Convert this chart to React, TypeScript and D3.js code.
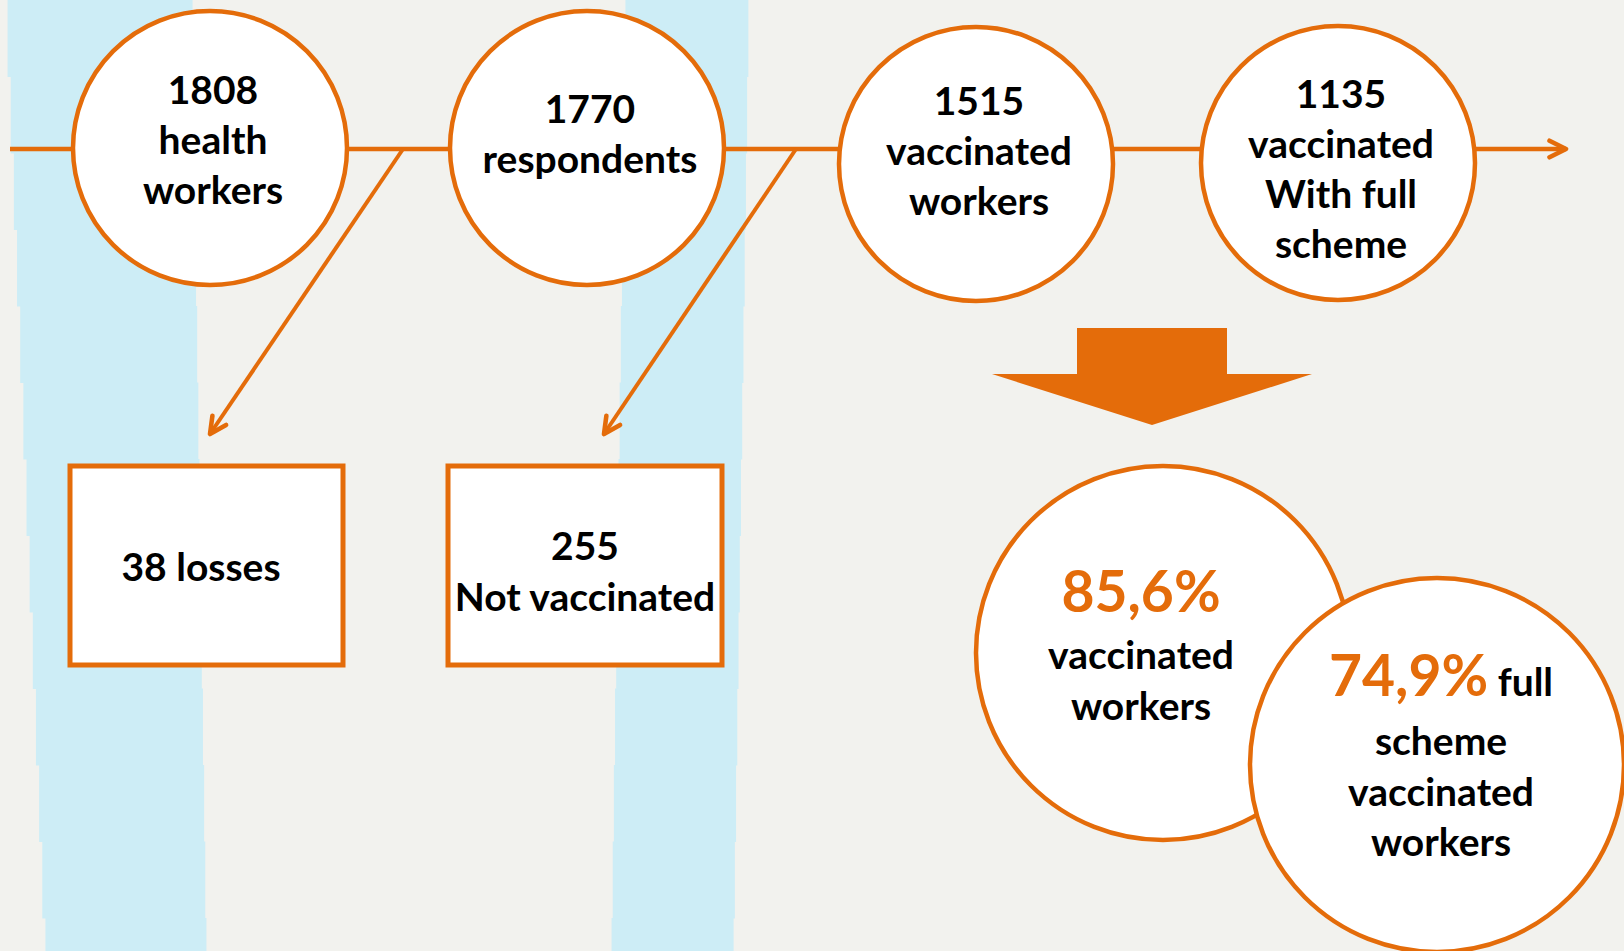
import React from 'react';
import * as d3 from 'd3';

// flow of the survey population
const stageNames = ['health', 'respondents', 'vaccinated', 'full'];
const stageCounts = [1808, 1770, 1515, 1135];
const stageLabels = [
  ['health', 'workers'],
  ['respondents'],
  ['vaccinated', 'workers'],
  ['vaccinated', 'With full', 'scheme'],
];
const dropCounts = [38, 255];
const dropLabels = ['losses', 'Not vaccinated'];
const rateLabels = [
  ['vaccinated', 'workers'],
  ['scheme', 'vaccinated', 'workers'],
];

const W = 1624;
const H = 951;
const ORANGE = '#E46C0A';
const BLUE = '#CDEDF6';
const BG = '#F2F2EE';
const FONT = 'Lato, "Open Sans", sans-serif';
const FS = 39;

// layout
const x = d3.scaleOrdinal<string, number>().domain(stageNames).range([210, 587, 976, 1338]);
const y = d3.scaleOrdinal<string, number>().domain(stageNames).range([148, 148, 164, 163]);
const firstBaseline = d3.scaleOrdinal<string, number>().domain(stageNames).range([104, 123, 115, 108]);
const R = 137;
const LINE_Y = 149;
const LINE_H = 50;

const pct = (a: number, b: number) => d3.format('.1f')((a / b) * 100).replace('.', ',') + '%';

// stepped stripes in the background
const stripe = (x0t: number, x1t: number, x0b: number, x1b: number) => {
  const step = 76.5;
  const n = Math.ceil(H / step);
  return d3.range(n).map(i => {
    const t = (i + 0.5) / n;
    const l = x0t + (x0b - x0t) * t;
    const r = x1t + (x1b - x1t) * t;
    return { x: l, y: i * step, w: r - l, h: step + 0.5 };
  });
};

const App: React.FC = () => {
  const rateA = pct(stageCounts[2], stageCounts[1]);
  const rateB = pct(stageCounts[3], stageCounts[2]);
  const boxes = [
    { x0: 70, x1: 343, from: 403, to: 210 },
    { x0: 448, x1: 722, from: 796, to: 604 },
  ];
  const stripes = [...stripe(6, 192, 47, 207), ...stripe(626, 749, 611, 733)];

  return (
    <div style={{ position: 'fixed', left: 0, top: 0 }}>
      <svg width={W} height={H} style={{ display: 'block', fontFamily: FONT }}>
        <defs>
          <marker id="chev" viewBox="0 0 12 12" refX={10.5} refY={6} markerWidth={22} markerHeight={22}
            markerUnits="userSpaceOnUse" orient="auto">
            <path d="M1.5,1.5 L10.5,6 L1.5,10.5" fill="none" stroke={ORANGE} strokeWidth={2.5}
              strokeLinecap="round" strokeLinejoin="round" />
          </marker>
        </defs>
        <rect width={W} height={H} fill={BG} />
        {stripes.map((s, i) => (
          <rect key={i} x={s.x} y={s.y} width={s.w} height={s.h} fill={BLUE} />
        ))}

        {/* main horizontal flow */}
        <line x1={10} x2={1566} y1={LINE_Y} y2={LINE_Y} stroke={ORANGE} strokeWidth={4.5} markerEnd="url(#chev)" />

        {/* drop-out branches */}
        {boxes.map((b, i) => (
          <g key={i}>
            <line x1={b.from} y1={LINE_Y} x2={b.to} y2={434} stroke={ORANGE} strokeWidth={4} markerEnd="url(#chev)" />
            <rect x={b.x0} y={466} width={b.x1 - b.x0} height={199} fill="#fff" stroke={ORANGE} strokeWidth={5} />
          </g>
        ))}
        <text x={201} y={581} textAnchor="middle" fontSize={FS} fontWeight={700} fill="#000">
          {`${dropCounts[0]} ${dropLabels[0]}`}
        </text>
        <text x={585} textAnchor="middle" fontSize={FS} fontWeight={700} fill="#000">
          <tspan x={585} y={560}>{dropCounts[1]}</tspan>
          <tspan x={585} y={611}>{dropLabels[1]}</tspan>
        </text>

        {/* stage circles */}
        {stageNames.map((name, i) => (
          <g key={name}>
            <circle cx={x(name)} cy={y(name)} r={R} fill="#fff" stroke={ORANGE} strokeWidth={4.5} />
            <text textAnchor="middle" fontSize={FS} fontWeight={700} fill="#000">
              {[String(stageCounts[i]), ...stageLabels[i]].map((t, j) => (
                <tspan key={j} x={x(name) + 3} y={firstBaseline(name) + j * LINE_H}>{t}</tspan>
              ))}
            </text>
          </g>
        ))}

        {/* big down arrow */}
        <polygon
          points="1077,328 1227,328 1227,374 1312,374 1152,425 992,374 1077,374"
          fill={ORANGE}
        />

        {/* summary circles */}
        <circle cx={1163} cy={653} r={187} fill="#fff" stroke={ORANGE} strokeWidth={4.5} />
        <text textAnchor="middle" fontWeight={700}>
          <tspan x={1141} y={612} fontSize={57} fill={ORANGE}>{rateA}</tspan>
          {rateLabels[0].map((t, j) => (
            <tspan key={j} x={1141} y={669 + j * 51} fontSize={FS} fill="#000">{t}</tspan>
          ))}
        </text>
        <circle cx={1437} cy={765} r={187} fill="#fff" stroke={ORANGE} strokeWidth={4.5} />
        <text x={1441} y={696} textAnchor="middle" fontWeight={700}>
          <tspan fontSize={57} fill={ORANGE}>{rateB}</tspan>
          <tspan fontSize={FS} fill="#000">{' full'}</tspan>
        </text>
        <text textAnchor="middle" fontWeight={700} fontSize={FS} fill="#000">
          {rateLabels[1].map((t, j) => (
            <tspan key={j} x={1441} y={755 + j * 50.5}>{t}</tspan>
          ))}
        </text>
      </svg>
    </div>
  );
};

export default App;
